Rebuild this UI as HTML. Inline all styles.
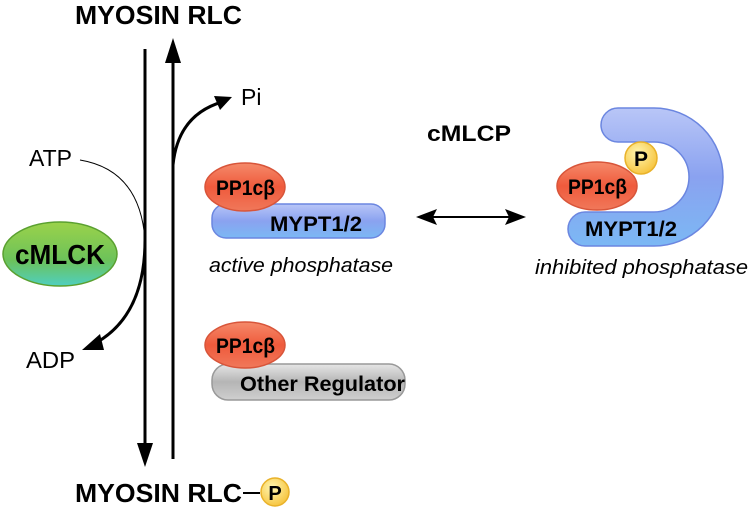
<!DOCTYPE html>
<html><head><meta charset="utf-8"><style>
html,body{margin:0;padding:0;background:#fff}
svg{display:block}
text{font-family:"Liberation Sans","DejaVu Sans",sans-serif}
</style></head><body>
<svg width="752" height="512" viewBox="0 0 752 512">
<defs>
<linearGradient id="g" x1="0" y1="0" x2="0" y2="1"><stop offset="0" stop-color="#9bd24a"/><stop offset="0.6" stop-color="#6cc25a"/><stop offset="1" stop-color="#4fcfc0"/></linearGradient>
<linearGradient id="r" x1="0" y1="0" x2="0" y2="1"><stop offset="0" stop-color="#f58a6a"/><stop offset="0.5" stop-color="#ef5a3c"/><stop offset="1" stop-color="#f0785a"/></linearGradient>
<linearGradient id="b" x1="0" y1="0" x2="0" y2="1"><stop offset="0" stop-color="#b9c6f7"/><stop offset="0.5" stop-color="#8aa2f0"/><stop offset="1" stop-color="#7bb8f4"/></linearGradient>
<linearGradient id="gr" x1="0" y1="0" x2="0" y2="1"><stop offset="0" stop-color="#e6e6e6"/><stop offset="0.5" stop-color="#b5b5b5"/><stop offset="1" stop-color="#cfcfcf"/></linearGradient>
<radialGradient id="y" cx="0.4" cy="0.35" r="0.7"><stop offset="0" stop-color="#fff6b0"/><stop offset="1" stop-color="#f6c23a"/></radialGradient>
</defs>
<g font-weight="bold" fill="#000">
<text x="75" y="24" font-size="26" textLength="167" lengthAdjust="spacingAndGlyphs">MYOSIN RLC</text>
<text x="75" y="502" font-size="26" textLength="167" lengthAdjust="spacingAndGlyphs">MYOSIN RLC</text>
</g>
<line x1="243" y1="493" x2="260" y2="493" stroke="#000" stroke-width="2"/>
<circle cx="275" cy="492" r="14" fill="url(#y)" stroke="#e9b22a" stroke-width="1.5"/>
<text x="275" y="500" font-size="20" font-weight="bold" text-anchor="middle">P</text>
<!-- vertical arrows -->
<line x1="145" y1="49" x2="145" y2="445" stroke="#000" stroke-width="3"/>
<polygon points="137,443 153,443 145,467" fill="#000"/>
<line x1="173" y1="60" x2="173" y2="459" stroke="#000" stroke-width="3"/>
<polygon points="165,63 181,63 173,38" fill="#000"/>
<!-- Pi -->
<path d="M173,165 Q178,115 222,102" fill="none" stroke="#000" stroke-width="3"/>
<polygon points="232,97 214,96 220,110" fill="#000"/>
<text x="241" y="105" font-size="23">Pi</text>
<!-- ATP/ADP -->
<text x="29" y="166" font-size="23" textLength="43" lengthAdjust="spacingAndGlyphs">ATP</text>
<path d="M80,160 Q140,170 145,240" fill="none" stroke="#000" stroke-width="1"/>
<path d="M145,240 Q145,318 92,345" fill="none" stroke="#000" stroke-width="3"/>
<polygon points="82,350 100,334 104,350" fill="#000"/>
<text x="26" y="368" font-size="23" textLength="49" lengthAdjust="spacingAndGlyphs">ADP</text>
<!-- cMLCK -->
<ellipse cx="60" cy="254" rx="57" ry="32" fill="url(#g)" stroke="#5aa030" stroke-width="1.5"/>
<text x="15" y="264" font-size="28" font-weight="bold" textLength="90" lengthAdjust="spacingAndGlyphs">cMLCK</text>
<!-- active -->
<rect x="212" y="204" width="173" height="34" rx="14" fill="url(#b)" stroke="#6b86e0" stroke-width="1.5"/>
<text x="270" y="231" font-size="21" font-weight="bold" textLength="92" lengthAdjust="spacingAndGlyphs">MYPT1/2</text>
<ellipse cx="245" cy="187" rx="40" ry="24" fill="url(#r)" stroke="#d8553a" stroke-width="1.5"/>
<text x="216" y="195" font-size="21" font-weight="bold" textLength="59" lengthAdjust="spacingAndGlyphs">PP1cβ</text>
<text x="209" y="272" font-size="20" font-style="italic" textLength="184" lengthAdjust="spacingAndGlyphs">active phosphatase</text>
<!-- cMLCP -->
<text x="427" y="141" font-size="22" font-weight="bold" textLength="84" lengthAdjust="spacingAndGlyphs">cMLCP</text>
<line x1="430" y1="217" x2="512" y2="217" stroke="#000" stroke-width="2"/>
<polygon points="416,217 437,209 433,217 437,225" fill="#000"/>
<polygon points="526,217 505,209 509,217 505,225" fill="#000"/>
<!-- inhibited -->
<path d="M618,108 L654,108 A69,69 0 0 1 654,246 L585,246 A17,17 0 0 1 585,212 L654,212 A35,35 0 0 0 654,142 L618,142 A17,17 0 0 1 618,108 Z" fill="url(#b)" stroke="#6b86e0" stroke-width="1.5"/>
<text x="585" y="236" font-size="21" font-weight="bold" textLength="92" lengthAdjust="spacingAndGlyphs">MYPT1/2</text>
<ellipse cx="597" cy="186" rx="40" ry="24" fill="url(#r)" stroke="#d8553a" stroke-width="1.5"/>
<text x="568" y="194" font-size="21" font-weight="bold" textLength="59" lengthAdjust="spacingAndGlyphs">PP1cβ</text>
<circle cx="641" cy="158" r="16" fill="url(#y)" stroke="#e9b22a" stroke-width="1.5"/>
<text x="641" y="166" font-size="21" font-weight="bold" text-anchor="middle">P</text>
<text x="535" y="274" font-size="20" font-style="italic" textLength="213" lengthAdjust="spacingAndGlyphs">inhibited phosphatase</text>
<!-- other -->
<rect x="212" y="364" width="193" height="36" rx="16" fill="url(#gr)" stroke="#999" stroke-width="1.5"/>
<text x="240" y="391" font-size="21" font-weight="bold" textLength="165" lengthAdjust="spacingAndGlyphs">Other Regulator</text>
<ellipse cx="245" cy="345" rx="40" ry="23" fill="url(#r)" stroke="#d8553a" stroke-width="1.5"/>
<text x="216" y="353" font-size="21" font-weight="bold" textLength="59" lengthAdjust="spacingAndGlyphs">PP1cβ</text>
</svg>
</body></html>
